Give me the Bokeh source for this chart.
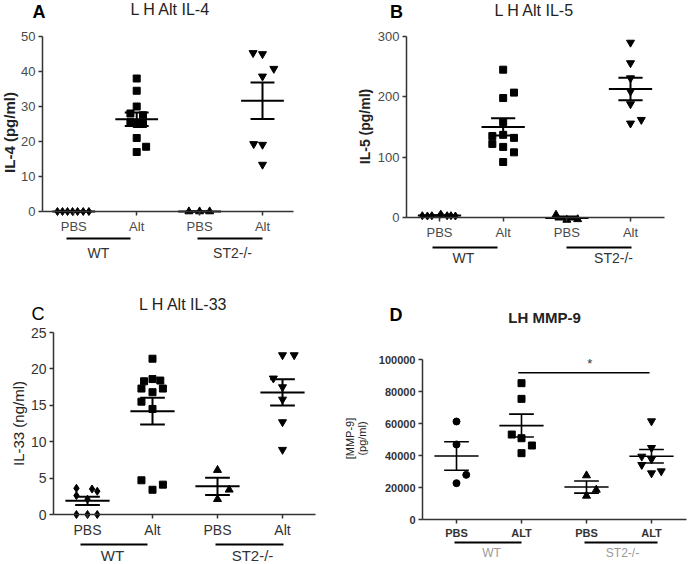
import math
import numpy as np
from bokeh.plotting import figure
from bokeh.layouts import column, row
from bokeh.models import Label, Arrow, FixedTicker, Range1d, BasicTickFormatter
from bokeh.embed import file_html
from bokeh.resources import INLINE

FONT = "Liberation Sans"

# ---------------- data ----------------
categories = [1, 2, 3, 4]
groups = ["WT", "ST2-/-"]
abc_xlabels = ["PBS", "Alt", "PBS", "Alt"]
d_xlabels = ["PBS", "ALT", "PBS", "ALT"]

# Panel A: IL-4 (pg/ml)
a_yticks = [0, 10, 20, 30, 40, 50]
a_wt_pbs = [0, 0, 0, 0, 0, 0, 0]
a_wt_pbs_dx = [-0.26, -0.18, -0.10, -0.02, 0.06, 0.15, 0.24]
a_wt_alt = [38, 34.5, 30, 28, 27.5, 25.5, 25, 25, 21, 18.5, 17]
a_wt_alt_dx = [0, 0, 0, -0.1, 0.1, -0.1, 0, 0.1, 0, 0.15, 0]
a_st2_pbs = [0, 0, 0]
a_st2_pbs_dx = [-0.17, 0, 0.16]
a_st2_alt = [45.3, 45, 40.8, 38.6, 19.3, 19.1, 13.4]
a_st2_alt_dx = [-0.15, 0, 0.18, 0, -0.14, 0, 0]

# Panel B: IL-5 (pg/ml)
b_yticks = [0, 100, 200, 300]
b_wt_pbs = [3, 2.5, 3, 5.5, 3, 3, 2.5]
b_wt_pbs_dx = [-0.27, -0.19, -0.12, 0.02, 0.12, 0.18, 0.25]
b_wt_alt = [245, 207, 198, 158, 137, 135, 132, 122, 117, 108, 92]
b_wt_alt_dx = [0, 0.17, 0, 0, 0, -0.17, 0.17, -0.17, 0, 0.17, 0]
b_st2_pbs = [4.4, -4, -3]
b_st2_pbs_dx = [-0.17, 0, 0.17]
b_st2_alt = [290, 256, 231, 209, 188, 156, 162]
b_st2_alt_dx = [0, 0, 0, 0, 0, 0, 0.17]

# Panel C: IL-33 (ng/ml)
c_yticks = [0, 5, 10, 15, 20, 25]
c_wt_pbs = [3.6, 3.5, 3.2, 2.6, 2.1, 0, 0, 0]
c_wt_pbs_dx = [-0.17, 0.07, 0.15, -0.17, 0, -0.17, 0, 0.15]
c_wt_alt = [21.4, 18.3, 18.6, 18.4, 17.3, 17.3, 16.8, 15.5, 14.5, 4.7, 3.4, 4.1]
c_wt_alt_dx = [0, -0.13, 0, 0.12, -0.17, 0.16, 0, -0.17, 0, -0.17, 0, 0.16]
c_st2_pbs = [6.1, 3.4, 2.1]
c_st2_pbs_dx = [0, 0.18, 0]
c_st2_alt = [21.9, 21.9, 18.7, 17.5, 15.8, 12.7, 8.9]
c_st2_alt_dx = [0, 0.18, -0.14, 0, 0, 0, 0]

# Panel D: MMP-9 (pg/ml)
d_yticks = [0, 20000, 40000, 60000, 80000, 100000]
d_wt_pbs = [61250, 46900, 27900, 22700]
d_wt_pbs_dx = [0, 0, 0.15, 0]
d_wt_alt = [85200, 75400, 53100, 50800, 46250, 41460]
d_wt_alt_dx = [0, 0, -0.15, 0, 0.16, 0]
d_st2_pbs = [27500, 18540, 14800]
d_st2_pbs_dx = [0, 0.15, 0]
d_st2_alt = [61460, 44800, 39375, 37700, 34170, 28960, 30200]
d_st2_alt_dx = [0, 0, -0.15, 0, -0.15, 0, 0.15]
d_sig_pair = [2, 4]
d_sig_y = 91700
d_sig_text = "*"

AX = "#333333"


def make_panel(cfg):
    ox, oy, w, h = cfg["box"]
    L, R, T, Z = cfg["frame"]
    c1, c4 = cfg["cat"]
    sp = (c4 - c1) / 3.0
    yticks = cfg["yticks"]
    ymax = yticks[-1]
    upp = ymax / float(Z - T)

    def X(px):
        return 1 + (px - c1) / sp

    def Y(py):
        return (Z - py) * upp

    p = figure(width=w, height=h, x_range=Range1d(X(ox), X(ox + w)),
               y_range=Range1d(Y(oy + h), Y(oy)),
               output_backend="svg", toolbar_location=None, tools="",
               min_border=0, min_border_left=0, min_border_right=0,
               min_border_top=0, min_border_bottom=0,
               outline_line_color=None, background_fill_color="white",
               border_fill_color="white")
    p.title.visible = False
    p.xgrid.visible = False
    p.ygrid.visible = False

    # axes (drawn at fixed data locations inside the frame)
    xa = p.xaxis[0]
    xa.ticker = FixedTicker(ticks=categories)
    xa.major_label_overrides = {c: t for c, t in zip(categories, cfg["xlabels"])}
    xa.fixed_location = 0
    xa.bounds = (X(L), X(R))
    ya = p.yaxis[0]
    ya.ticker = FixedTicker(ticks=yticks)
    ya.formatter = BasicTickFormatter(use_scientific=False)
    ya.fixed_location = X(L)
    ya.bounds = (0, ymax)
    for ax, fs in ((xa, cfg["xfs"]), (ya, cfg["yfs"])):
        ax.major_tick_in = 0
        ax.major_tick_out = 4
        ax.minor_tick_out = 0
        ax.minor_tick_in = 0
        ax.axis_line_width = 1.5
        ax.axis_line_color = AX
        ax.major_tick_line_color = AX
        ax.major_tick_line_width = 1.5
        ax.major_label_text_font = FONT
        ax.major_label_text_font_size = fs
        ax.major_label_text_color = cfg["tickcol"]
        ax.major_label_text_font_style = cfg["tickstyle"]
        ax.major_label_standoff = 3

    # points and mean +/- SEM
    lw = cfg["lw"]
    for cat, (vals, dxs, marker, size) in zip(categories, cfg["series"]):
        v = np.array(vals, dtype=float)
        p.scatter(x=[cat + d for d in dxs], y=list(v), marker=marker, size=size,
                  fill_color="black", line_color="black")
        m = v.mean()
        s = v.std(ddof=1) / math.sqrt(len(v))
        p.segment(x0=[cat - 0.34, cat - 0.19, cat - 0.19, cat],
                  y0=[m, m + s, m - s, m - s],
                  x1=[cat + 0.34, cat + 0.19, cat + 0.19, cat],
                  y1=[m, m + s, m - s, m + s],
                  line_color="black", line_width=lw)

    # group lines and labels
    gy, gty = cfg["group_y"]
    for name, (gx0, gx1), gtx in zip(groups, cfg["group_lines"], cfg["group_text_x"]):
        p.add_layout(Arrow(start=None, end=None, x_start=X(gx0), y_start=Y(gy),
                           x_end=X(gx1), y_end=Y(gy), line_color="black", line_width=2))
        p.add_layout(Label(x=X(gtx), y=Y(gty), text=name, text_align="center",
                           text_baseline="middle", text_font=FONT,
                           text_font_size=cfg["gfs"], text_color=cfg["gcol"]))

    # title, panel letter, y label
    tx, ty = cfg["title_pos"]
    p.add_layout(Label(x=X(tx), y=Y(ty), text=cfg["title"], text_align="center",
                       text_baseline="middle", text_font=FONT, text_font_size=cfg["tfs"],
                       text_font_style=cfg["tstyle"], text_color="#222222"))
    lx, ly = cfg["letter_pos"]
    p.add_layout(Label(x=X(lx), y=Y(ly), text=cfg["letter"], text_align="center",
                       text_baseline="middle", text_font=FONT, text_font_size="18px",
                       text_font_style=cfg["lstyle"], text_color="black"))
    for text, (yx, yy) in zip(cfg["ylabel"], cfg["ylabel_pos"]):
        p.add_layout(Label(x=X(yx), y=Y(yy), text=text, text_align="center",
                           text_baseline="middle", angle=math.pi / 2, text_font=FONT,
                           text_font_size=cfg["ylfs"], text_font_style=cfg["ylstyle"],
                           text_color="#222222"))
    return p


pA = make_panel(dict(
    box=(0, 0, 344, 282), frame=(42, 293, 36, 211), cat=(73.3, 262),
    yticks=a_yticks, xlabels=abc_xlabels, xfs="13px", yfs="13px", tickcol="#4a4a4a",
    tickstyle="normal", lw=2,
    series=[(a_wt_pbs, a_wt_pbs_dx, "diamond", 8), (a_wt_alt, a_wt_alt_dx, "square", 7),
            (a_st2_pbs, a_st2_pbs_dx, "triangle", 8),
            (a_st2_alt, a_st2_alt_dx, "inverted_triangle", 8)],
    group_y=(238, 252), group_lines=[(66, 130), (197, 262)], group_text_x=[98, 232],
    gfs="14px", gcol="#333333",
    title="L H Alt IL-4", title_pos=(170, 9), tfs="16px", tstyle="normal",
    letter="A", letter_pos=(38.5, 11), lstyle="bold",
    ylabel=["IL-4 (pg/ml)"], ylabel_pos=[(8.5, 132)], ylfs="15px", ylstyle="bold"))

pB = make_panel(dict(
    box=(344, 0, 344, 282), frame=(406, 664, 36, 217), cat=(439, 630),
    yticks=b_yticks, xlabels=abc_xlabels, xfs="13px", yfs="13px", tickcol="#4a4a4a",
    tickstyle="normal", lw=2,
    series=[(b_wt_pbs, b_wt_pbs_dx, "diamond", 8), (b_wt_alt, b_wt_alt_dx, "square", 7),
            (b_st2_pbs, b_st2_pbs_dx, "triangle", 8),
            (b_st2_alt, b_st2_alt_dx, "inverted_triangle", 8)],
    group_y=(247, 257.5), group_lines=[(432, 497), (566, 631)], group_text_x=[463, 613],
    gfs="14px", gcol="#333333",
    title="L H Alt IL-5", title_pos=(534, 10), tfs="16px", tstyle="normal",
    letter="B", letter_pos=(396, 11), lstyle="bold",
    ylabel=["IL-5 (pg/ml)"], ylabel_pos=[(364.5, 126)], ylfs="14px", ylstyle="bold"))

pC = make_panel(dict(
    box=(0, 282, 344, 282), frame=(53, 315, 332, 514), cat=(87, 282),
    yticks=c_yticks, xlabels=abc_xlabels, xfs="14px", yfs="14px", tickcol="#333333",
    tickstyle="normal", lw=2,
    series=[(c_wt_pbs, c_wt_pbs_dx, "diamond", 8), (c_wt_alt, c_wt_alt_dx, "square", 7),
            (c_st2_pbs, c_st2_pbs_dx, "triangle", 8),
            (c_st2_alt, c_st2_alt_dx, "inverted_triangle", 8)],
    group_y=(544, 555), group_lines=[(80, 147), (215, 283)], group_text_x=[112, 252],
    gfs="15px", gcol="#333333",
    title="L H Alt IL-33", title_pos=(183, 304), tfs="16px", tstyle="normal",
    letter="C", letter_pos=(37.5, 313), lstyle="normal",
    ylabel=["IL-33 (ng/ml)"], ylabel_pos=[(17.5, 423)], ylfs="15px", ylstyle="normal"))

pD = make_panel(dict(
    box=(344, 282, 344, 282), frame=(422, 686, 359, 519), cat=(456, 651),
    yticks=d_yticks, xlabels=d_xlabels, xfs="11px", yfs="11px", tickcol="#333333",
    tickstyle="bold", lw=1.6,
    series=[(d_wt_pbs, d_wt_pbs_dx, "circle", 7), (d_wt_alt, d_wt_alt_dx, "square", 7),
            (d_st2_pbs, d_st2_pbs_dx, "triangle", 8),
            (d_st2_alt, d_st2_alt_dx, "inverted_triangle", 8)],
    group_y=(542, 552), group_lines=[(454, 521), (584, 657)], group_text_x=[491, 622],
    gfs="12px", gcol="#999999",
    title="LH MMP-9", title_pos=(544, 317), tfs="15px", tstyle="bold",
    letter="D", letter_pos=(395.5, 314.5), lstyle="bold",
    ylabel=["[MMP-9]", "(pg/ml)"], ylabel_pos=[(349, 438), (361, 438)], ylfs="11px",
    ylstyle="normal"))

# significance bar in D
pD.segment(x0=[d_sig_pair[0] - 0.05], y0=[d_sig_y], x1=[d_sig_pair[1] - 0.03], y1=[d_sig_y],
           line_color="black", line_width=1.6)
pD.add_layout(Label(x=(d_sig_pair[0] + d_sig_pair[1]) / 2 + 0.05, y=d_sig_y + 6000,
                    text=d_sig_text, text_align="center", text_baseline="middle",
                    text_font=FONT, text_font_size="13px", text_color="#333333"))

layout = column(row(pA, pB), row(pC, pD))
open("out.html", "w").write(file_html(layout, INLINE))
